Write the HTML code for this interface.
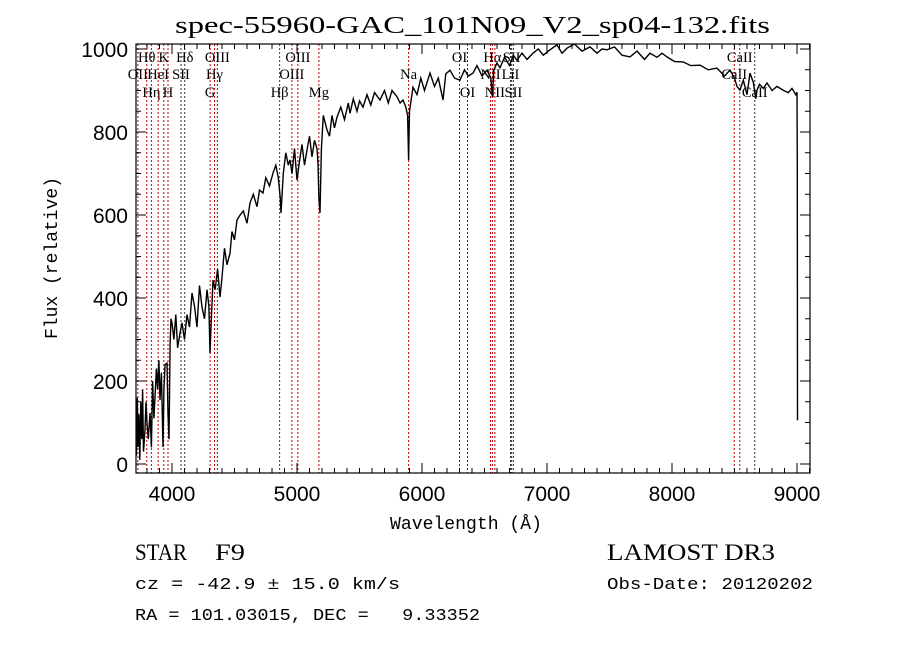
<!DOCTYPE html>
<html><head><meta charset="utf-8"><style>
html,body{margin:0;padding:0;background:#fff}
svg{display:block}
.t{font-family:"Liberation Serif",serif}
.m{font-family:"Liberation Mono",monospace}
.s{font-family:"Liberation Sans",sans-serif}
</style></head><body>
<svg id="chart" width="900" height="649" viewBox="0 0 900 649">
<rect width="900" height="649" fill="#fff"/>
<text class="t" x="175" y="33" font-size="24" textLength="595" lengthAdjust="spacingAndGlyphs">spec-55960-GAC_101N09_V2_sp04-132.fits</text>
<g id="lines"></g>
<g id="spec"></g>
<g id="axes"></g>
<text class="m" x="390" y="529" font-size="18" textLength="152" lengthAdjust="spacingAndGlyphs">Wavelength (Å)</text>
<text class="m" x="0" y="0" font-size="18" text-anchor="middle" transform="translate(57,258) rotate(-90)">Flux (relative)</text>
<text class="t" x="135" y="560" font-size="23" textLength="52" lengthAdjust="spacingAndGlyphs">STAR</text>
<text class="t" x="215" y="560" font-size="23" textLength="30" lengthAdjust="spacingAndGlyphs">F9</text>
<text class="m" x="135" y="589" font-size="17" textLength="265" lengthAdjust="spacingAndGlyphs">cz = -42.9 ± 15.0 km/s</text>
<text class="m" x="135" y="620" font-size="17" xml:space="preserve" textLength="345" lengthAdjust="spacingAndGlyphs">RA = 101.03015, DEC =   9.33352</text>
<text class="t" x="607" y="560" font-size="23" textLength="168" lengthAdjust="spacingAndGlyphs">LAMOST DR3</text>
<text class="m" x="607" y="589" font-size="17" textLength="206" lengthAdjust="spacingAndGlyphs">Obs-Date: 20120202</text>
</svg>
<script>
const wave = [3715,3722,3728,3735,3742,3750,3758,3765,3772,3784,3792,3800,3810,3824,3835,3845,3855,3864,3875,3885,3895,3904,3915,3928,3935,3945,3960,3968,3976,3985,3992,4000,4015,4030,4045,4064,4080,4100,4120,4140,4160,4180,4200,4220,4240,4260,4280,4295,4304,4312,4328,4345,4365,4384,4400,4420,4440,4464,4480,4500,4520,4545,4570,4600,4624,4650,4680,4700,4728,4750,4780,4808,4830,4850,4866,4872,4890,4910,4930,4944,4960,4980,5000,5020,5040,5060,5080,5100,5120,5140,5160,5168,5175,5184,5195,5210,5240,5260,5280,5300,5320,5350,5380,5410,5424,5450,5480,5500,5528,5560,5590,5620,5664,5700,5730,5760,5800,5825,5848,5870,5885,5893,5900,5928,5960,5990,6020,6064,6100,6130,6168,6190,6224,6260,6304,6340,6370,6408,6440,6480,6520,6550,6563,6575,6600,6624,6660,6700,6730,6760,6800,6840,6888,6930,6970,7024,7080,7120,7160,7220,7280,7344,7400,7440,7480,7540,7600,7664,7720,7780,7824,7880,7920,7960,8020,8088,8150,8224,8290,8360,8420,8464,8500,8520,8544,8570,8600,8624,8650,8670,8680,8700,8730,8760,8800,8840,8888,8930,8960,8990,9000,9002,9004];
const flux = [20,160,41,120,10,150,60,180,30,82,150,100,60,123,40,200,110,161,230,180,250,154,220,41,180,240,243,120,60,290,350,340,300,360,280,315,340,300,360,330,412,380,330,430,378,350,420,380,267,330,443,420,470,402,450,520,480,508,560,540,588,600,610,580,629,650,620,660,653,690,670,701,720,690,640,605,700,750,720,733,700,760,684,730,770,720,757,790,740,780,760,725,640,605,760,840,805,790,840,810,836,860,830,870,845,880,850,875,860,890,865,895,877,900,870,900,885,870,877,860,840,732,850,908,890,930,900,942,910,930,877,940,949,930,925,950,935,942,960,935,949,930,884,950,966,955,980,960,985,973,990,975,990,1000,985,998,1010,990,1002,1012,995,1005,990,1000,998,1005,985,981,995,975,990,980,990,981,970,969,960,961,950,954,935,949,930,910,901,925,890,942,920,880,901,915,905,918,900,910,901,895,905,890,896,716,105];
const lineWave = [3727,3798,3835,3889,3934,3968,4072,4102,4305,4340,4363,4861,4959,5007,5175,5893,6300,6364,6548,6563,6583,6708,6717,6731,8498,8542,8662];
const lineName = ["OII","Hθ","Hη","HeI","K","H","SII","Hδ","G","Hγ","OIII","Hβ","OIII","OIII","Mg","Na","OI","OI","NII","Hα","NII","LiI","SII","SII","CaII","CaII","CaII"];
const lineRow = [2,1,3,2,1,3,2,1,3,2,1,3,2,1,3,2,1,3,2,1,3,2,1,3,2,1,3];
const lineBlack = [0,0,0,0,0,0,1,1,0,0,0,0,0,0,0,0,0,1,0,0,0,1,1,1,0,0,1];
const xTicks = [4000,5000,6000,7000,8000,9000];
const yTicks = [0,200,400,600,800,1000];

const L=136,R=810,T=44,B=473;
const xs = w => 172 + (w-4000)*0.125;
const ys = f => 464 - f*0.415;
const NS='http://www.w3.org/2000/svg';
function mk(tag, attrs){const e=document.createElementNS(NS,tag);for(const k in attrs)e.setAttribute(k,attrs[k]);return e;}

const lg=document.getElementById('lines');
const rowY={1:62,2:79,3:97};
lineWave.forEach((w,i)=>{
  const x=xs(w);
  const ln=mk('line',{x1:x,x2:x,y1:T,y2:B,stroke:lineBlack[i]?'#333':'#c00000','stroke-width':1,'stroke-dasharray':'2,2'});
  
  
  lg.appendChild(ln);
  const t=mk('text',{x:x,y:rowY[lineRow[i]],'font-size':14.5,'text-anchor':'middle',class:'t'});
  t.textContent=lineName[i];
  
  
  lg.appendChild(t);
});

const sg=document.getElementById('spec');
let d='';
wave.forEach((w,i)=>{d+=(i?'L':'M')+xs(w).toFixed(1)+' '+ys(flux[i]).toFixed(1);});
const p=mk('path',{d:d,fill:'none',stroke:'#000','stroke-width':1.4});


sg.appendChild(p);
const cp=mk('clipPath',{id:'cp'});cp.appendChild(mk('rect',{x:L,y:T,width:R-L,height:B-T}));
document.getElementById('chart').appendChild(cp);
p.setAttribute('clip-path','url(#cp)');

const ag=document.getElementById('axes');
const box=mk('rect',{x:L,y:T,width:R-L,height:B-T,fill:'none',stroke:'#000','stroke-width':1.2});


ag.appendChild(box);
let td='';
for(let w=3800;w<=9100;w+=100){const x=xs(w);const len=(w%1000===0)?10:5;td+=`M${x} ${B}v${-len}M${x} ${T}v${len}`;}
for(let f=0;f<=1000;f+=50){const y=ys(f);const len=(f%200===0)?10:5;td+=`M${L} ${y}h${len}M${R} ${y}h${-len}`;}
const tk=mk('path',{d:td,stroke:'#000','stroke-width':1,fill:'none'});


ag.appendChild(tk);
xTicks.forEach(w=>{const t=mk('text',{x:xs(w),y:501,'font-size':21,'text-anchor':'middle',class:'s'});t.textContent=w;
  
  
  ag.appendChild(t);});
yTicks.forEach(f=>{const t=mk('text',{x:128,y:ys(f)+8,'font-size':21,'text-anchor':'end',class:'s'});t.textContent=f;
  
  
  ag.appendChild(t);});
</script>
</body></html>
